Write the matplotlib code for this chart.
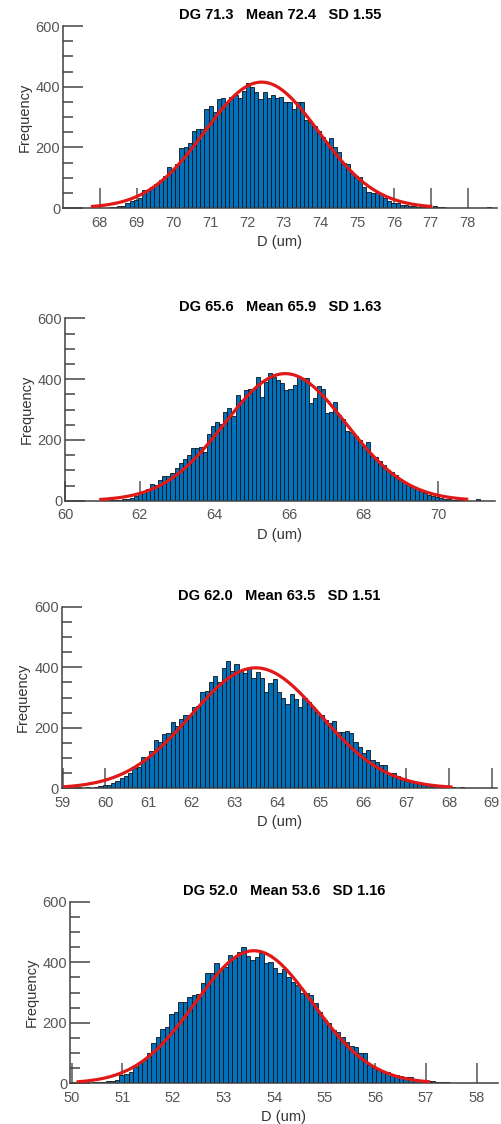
import numpy as np
import matplotlib
matplotlib.use("Agg")
import matplotlib.pyplot as plt
from matplotlib.ticker import MultipleLocator

plt.rcParams['font.family'] = ['Liberation Sans', 'DejaVu Sans']

# histogram counts, one list per panel
counts_1 = [0, 1, 1, 2, 3,
            5, 8, 17, 23, 28, 32,
            60, 60, 68, 80, 92, 105, 136, 125, 144, 197,
            202, 215, 255, 259, 259, 325, 336, 318, 358, 362,
            348, 367, 373, 362, 387, 411, 400, 384, 358, 384,
            362, 373, 362, 365, 351, 351, 325, 348, 348, 290,
            282, 270, 255, 235, 219, 230, 200, 186, 147, 145,
            114, 105, 103, 70, 54, 50, 48, 46, 32, 24,
            18, 15, 11, 9, 7, 5, 4, 3, 2, 0,
            7, 4, 4, 0, 0, 0, 0, 0, 0, 0, 0, 0, 0, 3, 0]
counts_2 = [1, 2, 3, 4, 6, 10, 15, 24, 30, 38,
            55, 52, 68, 82, 82, 90, 108, 123, 137, 150,
            174, 174, 178, 159, 221, 246, 258, 251, 293, 304,
            280, 348, 331, 364, 367, 369, 408, 342, 391, 419,
            408, 397, 386, 364, 367, 380, 408, 405, 403, 323,
            337, 378, 367, 290, 292, 326, 282, 270, 229, 227,
            214, 200, 178, 194, 148, 145, 130, 118, 100, 95,
            85, 70, 60, 52, 45, 40, 32, 25, 18, 14,
            12, 8, 6, 5, 3, 2, 1, 0, 0, 0, 4]
counts_3 = [1, 0, 2, 1, 2, 3, 2, 4, 6, 11,
            12, 18, 24, 33, 40, 52, 68, 72, 102, 98,
            122, 158, 152, 180, 183, 220, 206, 228, 242, 240,
            268, 272, 318, 320, 350, 370, 352, 396, 420, 389,
            411, 391, 380, 396, 363, 385, 363, 319, 347, 360,
            319, 297, 279, 312, 294, 270, 300, 286, 268, 253,
            242, 226, 217, 222, 187, 185, 190, 182, 154, 138,
            118, 127, 94, 88, 77, 77, 52, 50, 41, 33,
            25, 21, 17, 13, 11, 10, 8, 7, 5, 4,
            4, 3, 1, 3, 0, 0, 0, 0, 0, 2, 0]
counts_4 = [1, 0, 2, 3, 3, 5, 6, 8, 12, 27,
            31, 38, 55, 71, 77, 99, 134, 152, 178, 185,
            229, 237, 270, 270, 286, 291, 295, 330, 363, 363,
            396, 374, 385, 424, 413, 435, 450, 419, 407, 418,
            429, 399, 402, 380, 363, 377, 350, 336, 325, 297,
            297, 292, 264, 237, 209, 198, 176, 171, 154, 138,
            123, 121, 101, 99, 62, 52, 45, 40, 38, 30,
            27, 25, 22, 20, 15, 12, 10, 8, 6, 5, 4, 3]

bin_start = [67.905, 61.19, 59.04, 50.146]
bin_width = [0.113, 0.109, 0.099, 0.089]

dg_vals = [71.3, 65.6, 62.0, 52.0]
mean_vals = [72.4, 65.9, 63.5, 53.6]
sd_vals = [1.55, 1.63, 1.51, 1.16]
fit_peak = [415, 418, 398, 438]
fit_lo = [67.8, 60.96, 59.05, 50.13]
fit_hi = [77.0, 70.76, 68.05, 57.05]

x_lims = [(67.0, 78.8), (60.0, 71.52), (58.98, 69.12), (49.97, 58.42)]
x_ticks = [np.arange(68, 79, 1), np.arange(60, 71, 2), np.arange(59, 70, 1), np.arange(50, 59, 1)]

# axes boxes in pixels: left, right, top, bottom
boxes = [(63, 497, 26, 208), (65, 495, 318.3, 500.7),
         (61.7, 497, 606.7, 788.3), (70, 498, 901.7, 1083.3)]

W, H = 502, 1124
fig = plt.figure(figsize=(W / 100, H / 100), dpi=100)

all_counts = [counts_1, counts_2, counts_3, counts_4]
for p in range(4):
    l, r, t, b = boxes[p]
    ax = fig.add_axes([l / W, (H - b) / H, (r - l) / W, (b - t) / H])
    cnt = np.array(all_counts[p])
    edges = bin_start[p] + bin_width[p] * np.arange(len(cnt) + 1)
    ax.bar(edges[:-1], cnt, width=bin_width[p], align='edge',
           color='#0072BD', edgecolor='#111111', linewidth=0.6, zorder=1)

    xs = np.linspace(fit_lo[p], fit_hi[p], 300)
    ys = fit_peak[p] * np.exp(-0.5 * ((xs - mean_vals[p]) / sd_vals[p]) ** 2)
    ax.plot(xs, ys, color='#e01818', linewidth=2.3, zorder=3)

    ax.set_xlim(*x_lims[p])
    ax.set_ylim(0, 600)
    ax.set_xticks(x_ticks[p])
    ax.set_yticks([0, 200, 400, 600])
    ax.yaxis.set_minor_locator(MultipleLocator(50))
    ax.set_axisbelow(True)

    for side in ['top', 'right']:
        ax.spines[side].set_visible(False)
    for side in ['left', 'bottom']:
        ax.spines[side].set_color('#404040')
        ax.spines[side].set_linewidth(1.1)

    ax.tick_params(axis='x', which='major', direction='in', length=14.5, width=1.1,
                   color='#555555', labelcolor='#555555', labelsize=10.5, pad=5.5)
    ax.tick_params(axis='y', which='major', direction='in', length=14.5, width=1.1,
                   color='#444444', labelcolor='#555555', labelsize=10.5, pad=2)
    ax.tick_params(axis='y', which='minor', direction='in', length=7, width=1.1,
                   color='#444444')

    ax.set_title(f"DG {dg_vals[p]:.1f}   Mean {mean_vals[p]:.1f}   SD {sd_vals[p]:.2f}",
                 fontsize=10.5, fontweight='bold', color='black', pad=5)
    ax.set_xlabel("D (um)", fontsize=10.5, color='#333333', labelpad=4)
    ax.set_ylabel("Frequency", fontsize=10.5, color='#333333', labelpad=3)

fig.savefig("out.png", dpi=100)
